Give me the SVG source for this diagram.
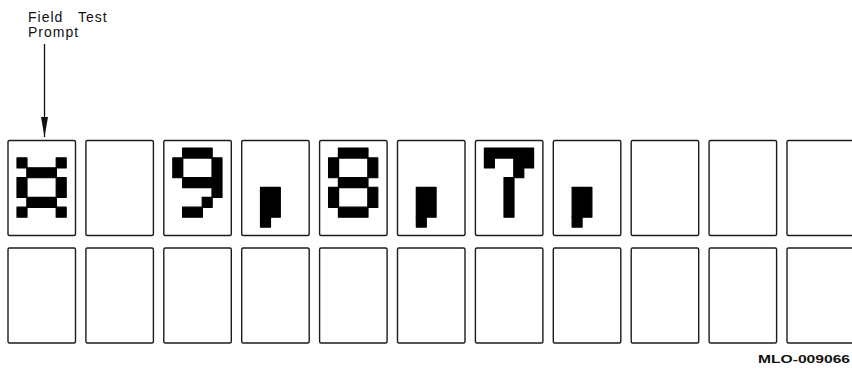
<svg xmlns="http://www.w3.org/2000/svg" xmlns:xlink="http://www.w3.org/1999/xlink" width="852" height="379" viewBox="0 0 852 379">
  <style>
    .cell { fill: none; stroke: #1c1c1c; stroke-width: 1.4; }
    .lbl { font-family: "Liberation Sans", Arial, sans-serif; font-size: 14px; letter-spacing: 1px; fill: #111; }
    .code { font-family: "Liberation Sans", Arial, sans-serif; font-size: 11px; font-weight: bold; fill: #111; }
    .conn { stroke: #111; stroke-width: 1.3; fill: none; }
    .px { fill: #000; stroke: #000; stroke-width: 0.12; stroke-linejoin: round; }
  </style>
  <defs>
    <marker id="arrow" viewBox="0 0 20 7" markerWidth="20" markerHeight="7" refX="20" refY="3.5" orient="auto" markerUnits="userSpaceOnUse">
      <path d="M0,0 L20,3.5 L0,7 Z" fill="#111"/>
    </marker>
    <g id="g-curr" class="px">
      <rect x="0" y="1" width="1.02" height="1.02"/>
      <rect x="4" y="1" width="1.02" height="1.02"/>
      <rect x="1" y="2" width="3.02" height="1.02"/>
      <rect x="0" y="3" width="1.02" height="2.02"/>
      <rect x="4" y="3" width="1.02" height="2.02"/>
      <rect x="1" y="5" width="3.02" height="1.02"/>
      <rect x="0" y="6" width="1.02" height="1.02"/>
      <rect x="4" y="6" width="1.02" height="1.02"/>
    </g>
    <g id="g-nine" class="px">
      <rect x="1" y="0" width="3.02" height="1.02"/>
      <rect x="0" y="1" width="1.02" height="2.02"/>
      <rect x="4" y="1" width="1.02" height="4.02"/>
      <rect x="1" y="3" width="3.02" height="1.02"/>
      <rect x="3" y="5" width="1.02" height="1.02"/>
      <rect x="1" y="6" width="2.02" height="1.02"/>
    </g>
    <g id="g-eight" class="px">
      <rect x="1" y="0" width="3.02" height="1.02"/>
      <rect x="0" y="1" width="1.02" height="2.02"/>
      <rect x="4" y="1" width="1.02" height="2.02"/>
      <rect x="1" y="3" width="3.02" height="1.02"/>
      <rect x="0" y="4" width="1.02" height="2.02"/>
      <rect x="4" y="4" width="1.02" height="2.02"/>
      <rect x="1" y="6" width="3.02" height="1.02"/>
    </g>
    <g id="g-seven" class="px">
      <rect x="0" y="0" width="5.02" height="1.02"/>
      <rect x="0" y="1" width="1.02" height="1.02"/>
      <rect x="3" y="1" width="2.02" height="1.02"/>
      <rect x="3" y="2" width="1.02" height="1.02"/>
      <rect x="2" y="3" width="1.02" height="4.02"/>
    </g>
    <g id="g-comma" class="px">
      <rect x="1" y="4" width="2.02" height="3.02"/>
      <rect x="1" y="7" width="1.02" height="1.02"/>
    </g>
  </defs>

  <g id="label-field-test-prompt">
    <text class="lbl" x="28" y="22">Field</text>
    <text class="lbl" x="78" y="22">Test</text>
    <text class="lbl" x="28" y="37">Prompt</text>
  </g>

  <g id="connectors">
    <line class="conn" x1="44.5" y1="44" x2="44.5" y2="137" marker-end="url(#arrow)"/>
  </g>

  <g id="row1">
    <g id="r1c1"><rect class="cell" x="8" y="140.5" width="67.5" height="95" rx="1.5"/><use xlink:href="#g-curr" transform="translate(17,148) scale(9.8,9.86)"/></g>
    <g id="r1c2"><rect class="cell" x="85.9" y="140.5" width="67.5" height="95" rx="1.5"/></g>
    <g id="r1c3"><rect class="cell" x="163.8" y="140.5" width="67.5" height="95" rx="1.5"/><use xlink:href="#g-nine" transform="translate(172.8,148) scale(9.8,9.86)"/></g>
    <g id="r1c4"><rect class="cell" x="241.7" y="140.5" width="67.5" height="95" rx="1.5"/><use xlink:href="#g-comma" transform="translate(250.7,148) scale(9.8,9.86)"/></g>
    <g id="r1c5"><rect class="cell" x="319.6" y="140.5" width="67.5" height="95" rx="1.5"/><use xlink:href="#g-eight" transform="translate(328.6,148) scale(9.8,9.86)"/></g>
    <g id="r1c6"><rect class="cell" x="397.5" y="140.5" width="67.5" height="95" rx="1.5"/><use xlink:href="#g-comma" transform="translate(406.5,148) scale(9.8,9.86)"/></g>
    <g id="r1c7"><rect class="cell" x="475.4" y="140.5" width="67.5" height="95" rx="1.5"/><use xlink:href="#g-seven" transform="translate(484.4,148) scale(9.8,9.86)"/></g>
    <g id="r1c8"><rect class="cell" x="553.3" y="140.5" width="67.5" height="95" rx="1.5"/><use xlink:href="#g-comma" transform="translate(562.3,148) scale(9.8,9.86)"/></g>
    <g id="r1c9"><rect class="cell" x="631.2" y="140.5" width="67.5" height="95" rx="1.5"/></g>
    <g id="r1c10"><rect class="cell" x="709.1" y="140.5" width="67.5" height="95" rx="1.5"/></g>
    <g id="r1c11"><rect class="cell" x="787" y="140.5" width="67.5" height="95" rx="1.5"/></g>
  </g>

  <g id="row2">
    <g id="r2c1"><rect class="cell" x="8" y="248" width="67.5" height="95" rx="1.5"/></g>
    <g id="r2c2"><rect class="cell" x="85.9" y="248" width="67.5" height="95" rx="1.5"/></g>
    <g id="r2c3"><rect class="cell" x="163.8" y="248" width="67.5" height="95" rx="1.5"/></g>
    <g id="r2c4"><rect class="cell" x="241.7" y="248" width="67.5" height="95" rx="1.5"/></g>
    <g id="r2c5"><rect class="cell" x="319.6" y="248" width="67.5" height="95" rx="1.5"/></g>
    <g id="r2c6"><rect class="cell" x="397.5" y="248" width="67.5" height="95" rx="1.5"/></g>
    <g id="r2c7"><rect class="cell" x="475.4" y="248" width="67.5" height="95" rx="1.5"/></g>
    <g id="r2c8"><rect class="cell" x="553.3" y="248" width="67.5" height="95" rx="1.5"/></g>
    <g id="r2c9"><rect class="cell" x="631.2" y="248" width="67.5" height="95" rx="1.5"/></g>
    <g id="r2c10"><rect class="cell" x="709.1" y="248" width="67.5" height="95" rx="1.5"/></g>
    <g id="r2c11"><rect class="cell" x="787" y="248" width="67.5" height="95" rx="1.5"/></g>
  </g>

  <g id="figure-code">
    <text class="code" x="758" y="363" textLength="92" lengthAdjust="spacingAndGlyphs">MLO-009066</text>
  </g>
</svg>
